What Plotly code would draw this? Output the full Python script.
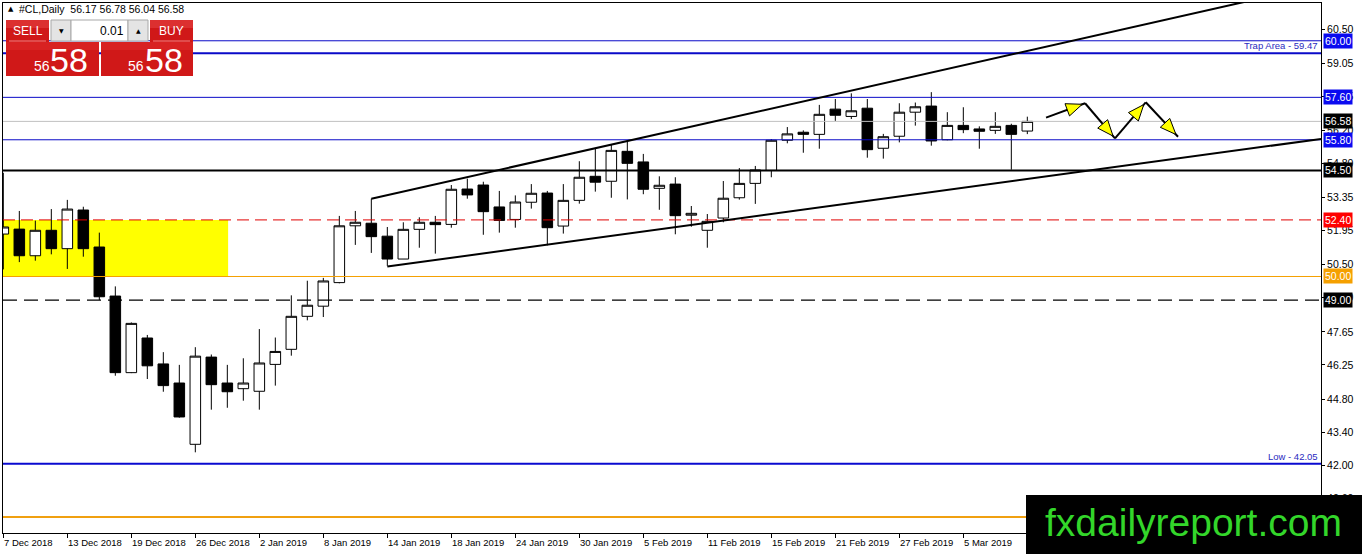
import plotly.graph_objects as go

# ---------------- data ----------------
dates = ["2018-12-07", "2018-12-10", "2018-12-11", "2018-12-12", "2018-12-13", "2018-12-14",
         "2018-12-17", "2018-12-18", "2018-12-19", "2018-12-20", "2018-12-21", "2018-12-24",
         "2018-12-26", "2018-12-27", "2018-12-28", "2018-12-31",
         "2019-01-02", "2019-01-03", "2019-01-04", "2019-01-07", "2019-01-08", "2019-01-09",
         "2019-01-10", "2019-01-11", "2019-01-14", "2019-01-15", "2019-01-16", "2019-01-17",
         "2019-01-18", "2019-01-21", "2019-01-22", "2019-01-23", "2019-01-24", "2019-01-25",
         "2019-01-28", "2019-01-29", "2019-01-30", "2019-01-31",
         "2019-02-01", "2019-02-04", "2019-02-05", "2019-02-06", "2019-02-07", "2019-02-08",
         "2019-02-11", "2019-02-12", "2019-02-13", "2019-02-14", "2019-02-15", "2019-02-18",
         "2019-02-19", "2019-02-20", "2019-02-21", "2019-02-22", "2019-02-25", "2019-02-26",
         "2019-02-27", "2019-02-28",
         "2019-03-01", "2019-03-04", "2019-03-05", "2019-03-06", "2019-03-07", "2019-03-08",
         "2019-03-11"]

opens = [51.80, 52.01, 50.88, 51.96, 51.18, 52.82, 51.25, 49.17, 45.92, 47.39, 46.29, 45.48,
         42.88, 46.58, 45.48, 45.24,
         45.13, 46.27, 46.91, 48.31, 48.74, 49.74, 52.15, 52.26, 51.71, 50.74, 52.00, 52.30,
         52.21, 53.71, 53.88, 52.95, 52.42, 53.15, 53.54, 52.14, 53.23, 54.25,
         54.04, 55.31, 54.86, 53.74, 53.92, 52.60, 51.96, 52.48, 53.34, 53.95, 54.50, 55.78,
         56.12, 56.03, 57.10, 56.79, 57.14, 55.44, 55.95, 56.97,
         57.23, 55.80, 56.41, 56.26, 56.20, 56.41, 56.17]
highs = [54.40, 52.78, 52.37, 52.86, 53.25, 52.96, 51.86, 49.58, 48.05, 47.52, 46.79, 46.25,
         47.00, 46.69, 46.25, 46.53,
         47.77, 47.41, 49.20, 49.82, 49.94, 52.57, 52.78, 53.30, 52.10, 52.30, 52.51, 52.57,
         53.88, 54.15, 54.02, 53.63, 53.44, 53.92, 53.63, 53.92, 54.89, 55.41,
         55.58, 55.72, 55.20, 54.25, 54.21, 52.99, 52.65, 54.05, 54.60, 54.69, 55.83, 56.34,
         56.20, 57.28, 57.53, 57.77, 57.53, 56.05, 57.35, 57.38,
         57.82, 56.97, 57.18, 56.37, 56.97, 56.48, 56.78]
lows = [50.30, 50.61, 50.67, 50.94, 50.32, 50.84, 49.00, 45.79, 45.90, 45.65, 45.11, 44.01,
        42.54, 44.35, 44.43, 44.73,
        44.35, 45.37, 46.64, 48.14, 48.28, 49.71, 51.34, 51.00, 50.45, 50.74, 51.22, 50.97,
        52.07, 53.30, 51.77, 51.86, 52.07, 52.88, 51.32, 51.82, 53.09, 53.60,
        53.34, 53.27, 53.49, 52.83, 51.79, 52.11, 51.22, 52.30, 53.26, 53.08, 54.21, 55.65,
        55.25, 55.42, 56.60, 56.68, 55.04, 55.00, 55.69, 56.40,
        55.55, 55.78, 56.08, 55.42, 56.05, 54.53, 56.04]
closes = [52.10, 50.88, 51.96, 51.18, 52.86, 51.18, 49.14, 45.92, 48.01, 46.21, 45.37, 44.04,
          46.62, 45.41, 45.11, 45.48,
          46.33, 46.82, 48.31, 48.78, 49.81, 52.15, 52.30, 51.69, 50.74, 52.00, 52.30, 52.20,
          53.70, 53.46, 52.75, 52.38, 53.16, 53.53, 52.07, 53.23, 54.21, 54.00,
          55.35, 54.80, 53.70, 53.87, 52.58, 52.68, 52.34, 53.32, 53.95, 54.52, 55.78, 56.05,
          56.03, 56.88, 56.84, 57.03, 55.38, 55.93, 56.97, 57.20,
          55.75, 56.41, 56.23, 56.16, 56.37, 56.03, 56.58]

date_tick_dates = ["2018-12-07", "2018-12-13", "2018-12-19", "2018-12-26", "2019-01-02",
                   "2019-01-08", "2019-01-14", "2019-01-18", "2019-01-24", "2019-01-30",
                   "2019-02-05", "2019-02-11", "2019-02-15", "2019-02-21", "2019-02-27",
                   "2019-03-05"]
date_tick_labels = ["7 Dec 2018", "13 Dec 2018", "19 Dec 2018", "26 Dec 2018", "2 Jan 2019",
                    "8 Jan 2019", "14 Jan 2019", "18 Jan 2019", "24 Jan 2019", "30 Jan 2019",
                    "5 Feb 2019", "11 Feb 2019", "15 Feb 2019", "21 Feb 2019", "27 Feb 2019",
                    "5 Mar 2019"]
price_ticks = [60.50, 59.05, 57.65, 56.20, 54.80, 53.35, 51.95, 50.50, 49.10,
               47.65, 46.25, 44.80, 43.40, 42.00, 40.60]

# horizontal levels
level_trap = 59.47
level_low = 42.05
level_r1 = 60.00
level_r2 = 57.60
level_last = 56.58
level_s1 = 55.80
level_s2 = 54.50
level_s3 = 52.40
level_s4 = 50.00
level_s5 = 49.00
level_bottom = 39.80

# zone (yellow box): from start to bar index, between two prices
zone_end_bar = 14.05
zone_top, zone_bottom = 52.40, 50.00

# channel lines (bar index, price)
upper_x = [23.0, 80.0]
upper_y = [53.30, 62.02]
lower_x = [24.0, 84.0]
lower_y = [50.42, 55.99]

# projected path (bar index, price)
path_x = [65.17, 67.61, 69.48, 71.40, 73.42]
path_y = [56.74, 57.35, 55.86, 57.39, 55.93]

header_text = "#CL,Daily  56.17 56.78 56.04 56.58"

# ---------------- layout geometry ----------------
W, H = 1362, 554
ML, MR, MT, MB = 3, 41, 3, 21
PW, PH = W - ML - MR, H - MT - MB
X0, X1 = -0.02, -0.02 + PW / 16.0
Y0, Y1 = 39.117, 61.603
PX_PER_BAR = PW / (X1 - X0)
PX_PER_VAL = PH / (Y1 - Y0)

FONT = "Liberation Sans, Arial, sans-serif"
BLUE_LINE = "#0a0ac8"
BLUE_TAG = "#0a0af0"


def px(x):
    return (x - ML) / PW


def py(y):
    return (H - MB - y) / PH


xs = list(range(len(dates)))
idx = {d: i for i, d in enumerate(dates)}

fig = go.Figure()
fig.add_trace(go.Candlestick(
    x=xs, open=opens, high=highs, low=lows, close=closes,
    increasing=dict(line=dict(color="black", width=1), fillcolor="white"),
    decreasing=dict(line=dict(color="black", width=1), fillcolor="black"),
    whiskerwidth=0, showlegend=False, hoverinfo="skip",
))

shapes = []
annotations = []

# yellow zone
shapes.append(dict(type="rect", xref="x", yref="y", x0=-2, x1=zone_end_bar,
                   y0=zone_bottom, y1=zone_top, fillcolor="#ffff00",
                   line=dict(width=0), layer="below"))


def hline(v, color, width=1, dash="solid"):
    shapes.append(dict(type="line", xref="paper", yref="y", x0=0, x1=1, y0=v, y1=v,
                       line=dict(color=color, width=width, dash=dash)))


hline(level_last, "#c0c0c0", 1)
hline(level_r1, BLUE_LINE, 1)
hline(level_trap, BLUE_LINE, 2)
hline(level_r2, BLUE_LINE, 1)
hline(level_s1, BLUE_LINE, 1)
hline(level_s2, "black", 2)
hline(level_s3, "#e00000", 1, "12px,6px")
hline(level_s4, "#f5a000", 1)
hline(level_s5, "black", 1.3, "14px,7px")
hline(level_low, "#0a0ad0", 2)
hline(level_bottom, "#f0a010", 2)

# channel
shapes.append(dict(type="line", xref="x", yref="y", x0=upper_x[0], x1=upper_x[1],
                   y0=upper_y[0], y1=upper_y[1], line=dict(color="black", width=2)))
shapes.append(dict(type="line", xref="x", yref="y", x0=lower_x[0], x1=lower_x[1],
                   y0=lower_y[0], y1=lower_y[1], line=dict(color="black", width=2)))

# projected path with arrowheads
for i in range(len(path_x) - 1):
    xa, ya, xb, yb = path_x[i], path_y[i], path_x[i + 1], path_y[i + 1]
    shapes.append(dict(type="line", xref="x", yref="y", x0=xa, x1=xb, y0=ya, y1=yb,
                       line=dict(color="black", width=2)))
    sxa, sya = xa * PX_PER_BAR, -ya * PX_PER_VAL
    sxb, syb = xb * PX_PER_BAR, -yb * PX_PER_VAL
    dx, dy = sxb - sxa, syb - sya
    ln = (dx * dx + dy * dy) ** 0.5
    ux, uy = dx / ln, dy / ln
    nx, ny = -uy, ux
    tipx, tipy = sxb - ux * 3, syb - uy * 3
    bx, by = tipx - ux * 16, tipy - uy * 16
    pts = [(tipx, tipy), (bx + nx * 6.5, by + ny * 6.5), (bx - nx * 6.5, by - ny * 6.5)]
    path = "M " + " L ".join(f"{p[0] / PX_PER_BAR:.4f},{-p[1] / PX_PER_VAL:.4f}" for p in pts) + " Z"
    shapes.append(dict(type="path", xref="x", yref="y", path=path, fillcolor="#ffff00",
                       line=dict(color="black", width=1)))

# price tags on right axis
for v, bg in [(level_r1, BLUE_TAG), (level_r2, BLUE_TAG), (level_last, "black"),
              (level_s1, BLUE_TAG), (level_s2, "black"), (level_s3, "#ff0000"),
              (level_s4, "#f5a000"), (level_s5, "black")]:
    annotations.append(dict(xref="paper", yref="y", x=1, y=v, xanchor="left", yanchor="middle",
                            xshift=2, text=f"{v:.2f}", showarrow=False, bgcolor=bg,
                            borderpad=1, font=dict(family=FONT, size=10.5, color="white")))

annotations.append(dict(xref="paper", yref="y", x=1, y=level_trap, xanchor="right",
                        yanchor="bottom", xshift=-1, yshift=0,
                        text=f"Trap Area - {level_trap:.2f}", showarrow=False,
                        font=dict(family=FONT, size=9.5, color="#2a2ac0")))
annotations.append(dict(xref="paper", yref="y", x=1, y=level_low, xanchor="right",
                        yanchor="bottom", xshift=-1, yshift=0,
                        text=f"Low - {level_low:.2f}", showarrow=False,
                        font=dict(family=FONT, size=9.5, color="#2a2ac0")))

# date labels (left aligned at tick)
for d, lab in zip(date_tick_dates, date_tick_labels):
    annotations.append(dict(xref="x", yref="paper", x=idx[d], y=0, xanchor="left",
                            yanchor="top", xshift=-1, yshift=-2, text=lab, showarrow=False,
                            font=dict(family=FONT, size=9.5, color="black")))

# header text
annotations.append(dict(xref="paper", yref="paper", x=px(6), y=py(9), xanchor="left",
                        yanchor="middle", text="▲", showarrow=False,
                        font=dict(family="DejaVu Sans", size=7, color="black")))
annotations.append(dict(xref="paper", yref="paper", x=px(17), y=py(9), xanchor="left",
                        yanchor="middle", text=header_text, showarrow=False,
                        font=dict(family=FONT, size=10.5, color="black")))


def prect(x0, y0, x1, y1, fill, line=None):
    shapes.append(dict(type="rect", xref="paper", yref="paper", x0=px(x0), x1=px(x1),
                       y0=py(y1), y1=py(y0), fillcolor=fill,
                       line=dict(color=line or fill, width=1 if line else 0)))


def ptext(x, y, t, size, color="white", anchor="center", family=FONT):
    annotations.append(dict(xref="paper", yref="paper", x=px(x), y=py(y), xanchor=anchor,
                            yanchor="middle", text=t, showarrow=False,
                            font=dict(family=family, size=size, color=color)))


RED = "#d01818"
prect(6, 20, 49, 42, RED)
prect(6, 20, 49, 28, "#dc3030")
prect(150, 20, 193, 42, RED)
prect(150, 20, 193, 28, "#dc3030")
prect(51, 20, 71, 41, "#e4e4e4", "#a8a8a8")
prect(71, 20, 128, 41, "white", "#a8a8a8")
prect(128, 20, 148, 41, "#e4e4e4", "#a8a8a8")
prect(6, 42, 99, 76, RED)
prect(101, 42, 193, 76, RED)
prect(6, 42, 99, 50, "#d82222")
prect(101, 42, 193, 50, "#d82222")
shapes.append(dict(type="line", xref="paper", yref="paper", x0=px(9), x1=px(46),
                   y0=py(41), y1=py(41), line=dict(color="#f08080", width=1)))
shapes.append(dict(type="line", xref="paper", yref="paper", x0=px(153), x1=px(190),
                   y0=py(41), y1=py(41), line=dict(color="#f08080", width=1)))

ptext(27.5, 31, "SELL", 12)
ptext(171.5, 31, "BUY", 12)
ptext(61, 31, "▼", 6, "black", family="DejaVu Sans")
ptext(138, 31, "▲", 6, "black", family="DejaVu Sans")
ptext(126, 31, "0.01", 12, "black", "right")
ptext(41.5, 66, "56", 14)
ptext(69, 59.5, "58", 34)
ptext(136, 66, "56", 14)
ptext(163.5, 59.5, "58", 34)

# watermark
shapes.append(dict(type="rect", xref="paper", yref="paper", x0=px(1026), x1=px(1370),
                   y0=py(560), y1=py(495), fillcolor="black", line=dict(width=0)))
annotations.append(dict(xref="paper", yref="paper", x=px(1193), y=py(522), xanchor="center",
                        yanchor="middle", text="fxdailyreport.com", showarrow=False,
                        font=dict(family=FONT, size=39, color="#33d62a")))

fig.update_layout(
    width=W, height=H,
    margin=dict(l=ML, r=MR, t=MT, b=MB),
    paper_bgcolor="white", plot_bgcolor="white",
    showlegend=False,
    boxgap=0.34, boxgroupgap=0,
    shapes=shapes, annotations=annotations,
    xaxis=dict(range=[X0, X1], rangeslider=dict(visible=False), showgrid=False,
               zeroline=False, showline=True, linecolor="black", linewidth=1, mirror=True,
               tickmode="array", tickvals=[idx[d] for d in date_tick_dates],
               showticklabels=False, ticks="outside", ticklen=4, tickcolor="black"),
    yaxis=dict(range=[Y0, Y1], side="right", showgrid=False, zeroline=False, showline=True,
               linecolor="black", linewidth=1, mirror=True, tickmode="array",
               tickvals=price_ticks, ticktext=[f"{t:.2f}" for t in price_ticks],
               ticks="outside", ticklen=3, tickcolor="black",
               tickfont=dict(family=FONT, size=10.5, color="black")),
)

fig.write_html("out.html", config={"displayModeBar": False},
               post_script="document.body.style.margin='0';document.body.style.overflow='hidden';")
